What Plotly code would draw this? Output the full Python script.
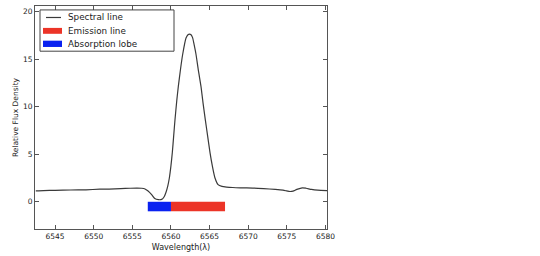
import plotly.graph_objects as go

wavelength = [6542.5, 6543.5, 6545.0, 6547.0, 6549.0, 6550.8, 6552.0, 6553.5, 6554.7, 6555.6,
              6556.2, 6556.64, 6557.0, 6557.5, 6557.9, 6558.37, 6558.8, 6559.1, 6559.36, 6559.6,
              6559.79, 6560.0, 6560.18, 6560.35, 6560.52, 6560.75, 6560.95, 6561.25, 6561.52, 6561.95,
              6562.2, 6562.4, 6562.6, 6562.8, 6563.0, 6563.24, 6563.55, 6563.89, 6564.15, 6564.45,
              6564.75, 6565.05, 6565.35, 6565.7, 6566.1, 6566.6, 6567.2, 6568.0, 6569.0, 6570.6,
              6572.0, 6573.5, 6574.5, 6575.0, 6575.4, 6575.8, 6576.3, 6577.0, 6577.5, 6578.2,
              6579.0, 6580.2]
flux = [1.15, 1.18, 1.20, 1.24, 1.26, 1.32, 1.33, 1.38, 1.42, 1.44,
        1.42, 1.35, 1.15, 0.75, 0.35, 0.22, 0.25, 0.50, 1.00, 1.70,
        2.50, 3.80, 5.20, 6.90, 8.60, 10.6, 12.1, 14.0, 15.5, 17.2,
        17.55, 17.62, 17.55, 17.25, 16.5, 15.5, 13.8, 12.1, 10.4, 8.6,
        6.9, 5.2, 3.8, 2.5, 1.8, 1.62, 1.55, 1.50, 1.47, 1.44,
        1.38, 1.30, 1.22, 1.14, 1.08, 1.12, 1.30, 1.47, 1.42, 1.30,
        1.22, 1.17]

emission_range = [6560.0, 6567.0]
absorption_range = [6557.0, 6560.0]
bar_bottom, bar_top = -1.0, 0.0

x_ticks = [6545, 6550, 6555, 6560, 6565, 6570, 6575, 6580]
y_ticks = [0, 5, 10, 15, 20]

legend_labels = ["Spectral line", "Emission line", "Absorption lobe"]
line_color = "#3a3a3a"
emission_color = "#ec3427"
absorption_color = "#0a22f0"

fig = go.Figure()
fig.add_trace(go.Scatter(x=wavelength, y=flux, mode="lines", name=legend_labels[0],
                         line=dict(color=line_color, width=1.2, shape="spline", smoothing=0.6)))
fig.add_trace(go.Bar(y=[(bar_bottom + bar_top) / 2], x=[emission_range[1] - emission_range[0]],
                     base=[emission_range[0]], orientation="h", width=bar_top - bar_bottom,
                     name=legend_labels[1], marker=dict(color=emission_color, line=dict(width=0))))
fig.add_trace(go.Bar(y=[(bar_bottom + bar_top) / 2], x=[absorption_range[1] - absorption_range[0]],
                     base=[absorption_range[0]], orientation="h", width=bar_top - bar_bottom,
                     name=legend_labels[2], marker=dict(color=absorption_color, line=dict(width=0))))

# plot area geometry in pixels (for the hand-made legend box)
L, R, T, B = 35, 327, 5, 232
def px(x):
    return (x - L) / (R - L)
def py(y):
    return (B - y) / (B - T)

shapes = [
    dict(type="rect", xref="paper", yref="paper", x0=px(40), x1=px(174), y0=py(51), y1=py(9),
         line=dict(color="#444444", width=1), fillcolor="white", layer="above"),
    dict(type="line", xref="paper", yref="paper", x0=px(46), x1=px(61), y0=py(16.7), y1=py(16.7),
         line=dict(color=line_color, width=1.2), layer="above"),
    dict(type="rect", xref="paper", yref="paper", x0=px(43), x1=px(62), y0=py(33.3), y1=py(27.3),
         line=dict(width=0), fillcolor=emission_color, layer="above"),
    dict(type="rect", xref="paper", yref="paper", x0=px(43), x1=px(62), y0=py(46.7), y1=py(40.3),
         line=dict(width=0), fillcolor=absorption_color, layer="above"),
]
annotations = [
    dict(text=lbl, xref="paper", yref="paper", x=px(65.5), y=py(yy), xanchor="left", yanchor="middle",
         showarrow=False, font=dict(family="DejaVu Sans", size=8.8, color="#222222"))
    for lbl, yy in zip(legend_labels, [16.7, 30.3, 43.5])
]

axis_common = dict(showline=True, linecolor="#555555", linewidth=1, mirror="ticks",
                   ticks="inside", ticklen=4, tickcolor="#555555", showgrid=False,
                   zeroline=False, tickfont=dict(family="DejaVu Sans", size=7.5, color="#222222"))

fig.update_layout(
    width=540, height=256,
    margin=dict(l=L, r=540 - R, t=T, b=256 - B),
    paper_bgcolor="white", plot_bgcolor="white",
    barmode="overlay",
    showlegend=False,
    shapes=shapes,
    annotations=annotations,
    xaxis=dict(range=[6542.4, 6580.2], tickvals=x_ticks,
               title=dict(text="Wavelength(λ)", standoff=4,
                          font=dict(family="DejaVu Sans", size=8, color="#222222")),
               **axis_common),
    yaxis=dict(range=[-2.86, 20.57], tickvals=y_ticks,
               title=dict(text="Relative Flux Density", standoff=3,
                          font=dict(family="DejaVu Sans", size=7.5, color="#222222")),
               **axis_common),
)

fig.write_html("out.html")
